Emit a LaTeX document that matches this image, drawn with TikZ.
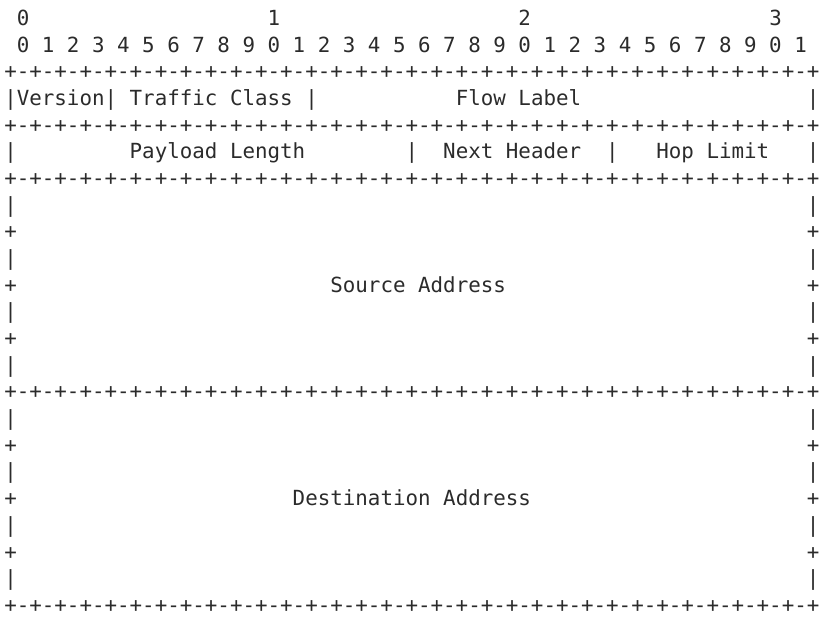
\documentclass[tikz,border=0pt]{standalone}
\usepackage{fontspec}
\newfontfamily\monofam{DejaVu Sans Mono}
\newcommand\gap[1]{\hspace*{#1\fontcharwd\font`\0}}
\newcommand\bdh{+-+-+-+-+-+-+-+-}
\newcommand\border{\bdh\bdh\bdh\bdh+}
\definecolor{ink}{HTML}{2B2B2B}
\tikzset{
  ln/.style={anchor=base west, inner sep=0pt, outer sep=0pt, text=ink,
    font=\monofam\fontsize{20.83pt}{26.7pt}\selectfont},
}
\begin{document}
\begin{tikzpicture}[x=1pt,y=-1pt]
\useasboundingbox (0,0) rectangle (829,617);
\node[ln] (L0)  at (4.3,25.4+26.68*0)  {\gap{1}0\gap{19}1\gap{19}2\gap{19}3};
\node[ln] (L1)  at (4.3,25.4+26.68*1)  {\gap{1}0~1~2~3~4~5~6~7~8~9~0~1~2~3~4~5~6~7~8~9~0~1~2~3~4~5~6~7~8~9~0~1};
\node[ln] (L2)  at (4.3,25.4+26.68*2)  {\border};
\node[ln] (L3)  at (4.3,25.4+26.68*3)  {|Version|~Traffic~Class~|\gap{11}Flow~Label\gap{18}|};
\node[ln] (L4)  at (4.3,25.4+26.68*4)  {\border};
\node[ln] (L5)  at (4.3,25.4+26.68*5)  {|\gap{9}Payload~Length\gap{8}|\gap{2}Next~Header\gap{2}|\gap{3}Hop~Limit\gap{3}|};
\node[ln] (L6)  at (4.3,25.4+26.68*6)  {\border};
\node[ln] (L7)  at (4.3,25.4+26.68*7)  {|\gap{63}|};
\node[ln] (L8)  at (4.3,25.4+26.68*8)  {+\gap{63}+};
\node[ln] (L9)  at (4.3,25.4+26.68*9)  {|\gap{63}|};
\node[ln] (L10) at (4.3,25.4+26.68*10) {+\gap{25}Source~Address\gap{24}+};
\node[ln] (L11) at (4.3,25.4+26.68*11) {|\gap{63}|};
\node[ln] (L12) at (4.3,25.4+26.68*12) {+\gap{63}+};
\node[ln] (L13) at (4.3,25.4+26.68*13) {|\gap{63}|};
\node[ln] (L14) at (4.3,25.4+26.68*14) {\border};
\node[ln] (L15) at (4.3,25.4+26.68*15) {|\gap{63}|};
\node[ln] (L16) at (4.3,25.4+26.68*16) {+\gap{63}+};
\node[ln] (L17) at (4.3,25.4+26.68*17) {|\gap{63}|};
\node[ln] (L18) at (4.3,25.4+26.68*18) {+\gap{22}Destination~Address\gap{22}+};
\node[ln] (L19) at (4.3,25.4+26.68*19) {|\gap{63}|};
\node[ln] (L20) at (4.3,25.4+26.68*20) {+\gap{63}+};
\node[ln] (L21) at (4.3,25.4+26.68*21) {|\gap{63}|};
\node[ln] (L22) at (4.3,25.4+26.68*22) {\border};
\end{tikzpicture}
\end{document}
